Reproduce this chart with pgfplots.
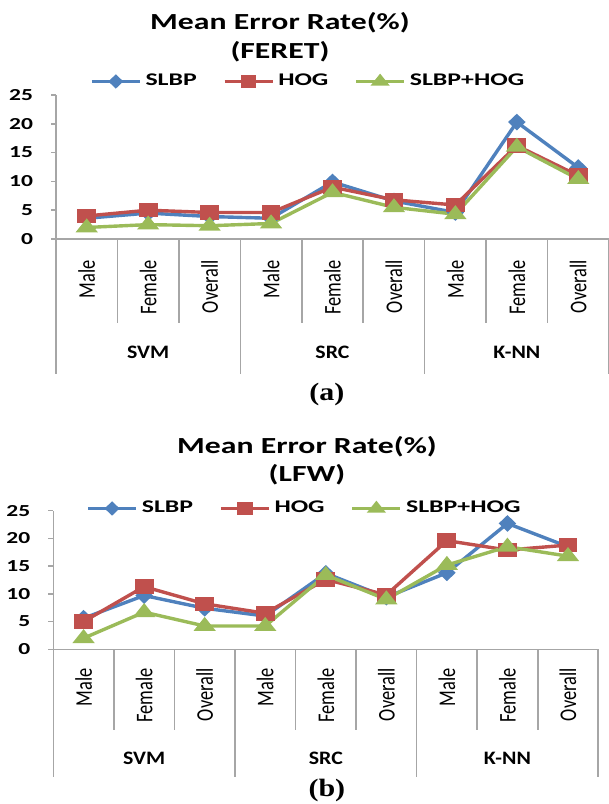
\documentclass[border=0pt]{standalone}
\usepackage{fontspec}
\setmainfont{Carlito}
\newfontfamily\capfont{Liberation Serif}
\usepackage{graphicx}
\usepackage{pgfplots}
\usepackage{pgfplotstable}
\pgfplotsset{compat=1.18}

\definecolor{cblue}{HTML}{4F81BD}
\definecolor{cred}{HTML}{C0504D}
\definecolor{cgreen}{HTML}{9BBB59}
\definecolor{axgray}{HTML}{A6A6A6}

\newcommand{\hs}[2][1.4]{\scalebox{#1}[1]{#2}}
\newcommand{\vs}[2][1.3]{\scalebox{1}[#1]{#2}}

\pgfplotstableread{
x    slbp  hog   both
0.5  3.6   4.0   2.0
1.5  4.5   5.0   2.5
2.5  3.9   4.6   2.3
3.5  3.6   4.6   2.7
4.5  9.9   9.0   8.1
5.5  6.6   6.8   5.5
6.5  4.6   5.9   4.3
7.5  20.3  16.2  16.0
8.5  12.4  11.0  10.4
}\feret

\pgfplotstableread{
x    slbp  hog   both
0.5  5.6   5.0   2.0
1.5  9.7   11.3  6.7
2.5  7.4   8.2   4.2
3.5  6.0   6.5   4.2
4.5  13.7  12.6  13.4
5.5  9.4   9.8   9.0
6.5  13.8  19.6  15.2
7.5  22.7  17.9  18.5
8.5  18.5  18.8  16.8
}\lfw

\tikzset{
  catlab/.style={rotate=90, anchor=east, inner sep=0pt, font=\fontsize{9.2}{10}\selectfont},
  grplab/.style={inner sep=0pt, font=\bfseries\fontsize{9.5}{11}\selectfont},
  sepline/.style={axgray, line width=0.8pt},
}

\pgfplotsset{
  myax/.style={
    scale only axis, clip=false,
    axis lines*=left,
    axis line style={axgray, line width=0.8pt},
    xmin=0, xmax=9, ymin=0, ymax=25,
    ytick={0,5,10,15,20,25},
    yticklabels={\hs{0},\hs{5},\hs{10},\hs{15},\hs{20},\hs{25}},
    yticklabel style={font=\bfseries\fontsize{8.4}{9}\selectfont, xshift=-5.5pt},
    xtick=\empty,
    tick align=outside, major tick length=2.5pt,
    ytick style={axgray, line width=0.8pt},
    legend columns=3,
    legend image code/.code={\draw[mark repeat=2,mark phase=2,##1,every mark/.append style={scale=0.8}] plot coordinates {(0pt,0pt) (12pt,0pt) (24pt,0pt)};},
    legend style={draw=none, fill=none, inner sep=0pt, anchor=west,
      font=\bfseries\fontsize{8.9}{10}\selectfont,
      /tikz/every even column/.append style={column sep=11pt},
      cells={anchor=west}},
  },
  slbp/.style={cblue, line width=1.7pt, mark=diamond*, mark size=3pt, mark options={xscale=1.4, solid}},
  hog/.style={cred, line width=1.7pt, mark=square*, mark size=2.8pt, mark options={xscale=1.38, solid}},
  both/.style={cgreen, line width=1.7pt, mark=triangle*, mark size=3.2pt, mark options={xscale=1.38, solid}},
}

% #1 = label top offset, #2 = inner sep length, #3 = group sep length, #4 = group label offset
\newcommand{\catlabels}[4]{%
  \draw[sepline] (axis cs:1,0) -- ++(0pt,-#2);
  \draw[sepline] (axis cs:2,0) -- ++(0pt,-#2);
  \draw[sepline] (axis cs:4,0) -- ++(0pt,-#2);
  \draw[sepline] (axis cs:5,0) -- ++(0pt,-#2);
  \draw[sepline] (axis cs:7,0) -- ++(0pt,-#2);
  \draw[sepline] (axis cs:8,0) -- ++(0pt,-#2);
  \draw[sepline] (axis cs:0,0) -- ++(0pt,-#3);
  \draw[sepline] (axis cs:3,0) -- ++(0pt,-#3);
  \draw[sepline] (axis cs:6,0) -- ++(0pt,-#3);
  \draw[sepline] (axis cs:9,0) -- ++(0pt,-#3);
  \path (axis cs:0.5,0) ++(0pt,-#1) node[catlab] {\vs{Male}};
  \path (axis cs:1.5,0) ++(0pt,-#1) node[catlab] {\vs{Female}};
  \path (axis cs:2.5,0) ++(0pt,-#1) node[catlab] {\vs{Overall}};
  \path (axis cs:3.5,0) ++(0pt,-#1) node[catlab] {\vs{Male}};
  \path (axis cs:4.5,0) ++(0pt,-#1) node[catlab] {\vs{Female}};
  \path (axis cs:5.5,0) ++(0pt,-#1) node[catlab] {\vs{Overall}};
  \path (axis cs:6.5,0) ++(0pt,-#1) node[catlab] {\vs{Male}};
  \path (axis cs:7.5,0) ++(0pt,-#1) node[catlab] {\vs{Female}};
  \path (axis cs:8.5,0) ++(0pt,-#1) node[catlab] {\vs{Overall}};
  \path (axis cs:1.5,0) ++(0pt,-#4) node[grplab] {\hs[1.15]{SVM}};
  \path (axis cs:4.5,0) ++(0pt,-#4) node[grplab] {\hs[1.15]{SRC}};
  \path (axis cs:7.5,0) ++(0pt,-#4) node[grplab] {\hs[1.15]{K-NN}};
}

\begin{document}
\begin{tikzpicture}
\useasboundingbox (0,0) rectangle (304.5pt,402pt);

% ---------- (a) FERET ----------
\begin{axis}[myax, at={(28pt,282.5pt)}, anchor=south west,
  width=276.5pt, height=72pt,
  legend style={at={(0.061,1.094)}}]
\addplot[slbp] table[x=x,y=slbp]{\feret};
\addplot[hog] table[x=x,y=hog]{\feret};
\addplot[both] table[x=x,y=both]{\feret};
\addlegendentry{\hs[1.45]{SLBP}}
\addlegendentry{\hs[1.45]{HOG}}
\addlegendentry{\hs[1.45]{SLBP+HOG}}
\catlabels{10.5pt}{41.85pt}{67.35pt}{56.85pt}
\path (rel axis cs:0.405,1) ++(0pt,36pt) node[font=\bfseries\fontsize{11.5}{13}\selectfont] {\hs[1.38]{Mean Error Rate(\%)}};
\path (rel axis cs:0.405,1) ++(0pt,21.5pt) node[font=\bfseries\fontsize{11.5}{13}\selectfont] {\hs[1.38]{(FERET)}};
\path (rel axis cs:0.49,0) ++(0pt,-77.5pt) node[font=\capfont\bfseries\fontsize{12.5}{14}\selectfont] {\hs[1.2]{(a)}};
\end{axis}

% ---------- (b) LFW ----------
\begin{axis}[myax, at={(26.65pt,77.35pt)}, anchor=south west,
  width=272.5pt, height=69.3pt,
  legend style={at={(0.060,1.016)}}]
\addplot[slbp] table[x=x,y=slbp]{\lfw};
\addplot[hog] table[x=x,y=hog]{\lfw};
\addplot[both] table[x=x,y=both]{\lfw};
\addlegendentry{\hs[1.45]{SLBP}}
\addlegendentry{\hs[1.45]{HOG}}
\addlegendentry{\hs[1.45]{SLBP+HOG}}
\catlabels{9.35pt}{40.35pt}{63.7pt}{54.35pt}
\path (rel axis cs:0.4655,1) ++(0pt,31.85pt) node[font=\bfseries\fontsize{11.5}{13}\selectfont] {\hs[1.38]{Mean Error Rate(\%)}};
\path (rel axis cs:0.4655,1) ++(0pt,17.85pt) node[font=\bfseries\fontsize{11.5}{13}\selectfont] {\hs[1.38]{(LFW)}};
\path (rel axis cs:0.502,0) ++(0pt,-70.35pt) node[font=\capfont\bfseries\fontsize{12.5}{14}\selectfont] {\hs[1.2]{(b)}};
\end{axis}
\end{tikzpicture}
\end{document}
